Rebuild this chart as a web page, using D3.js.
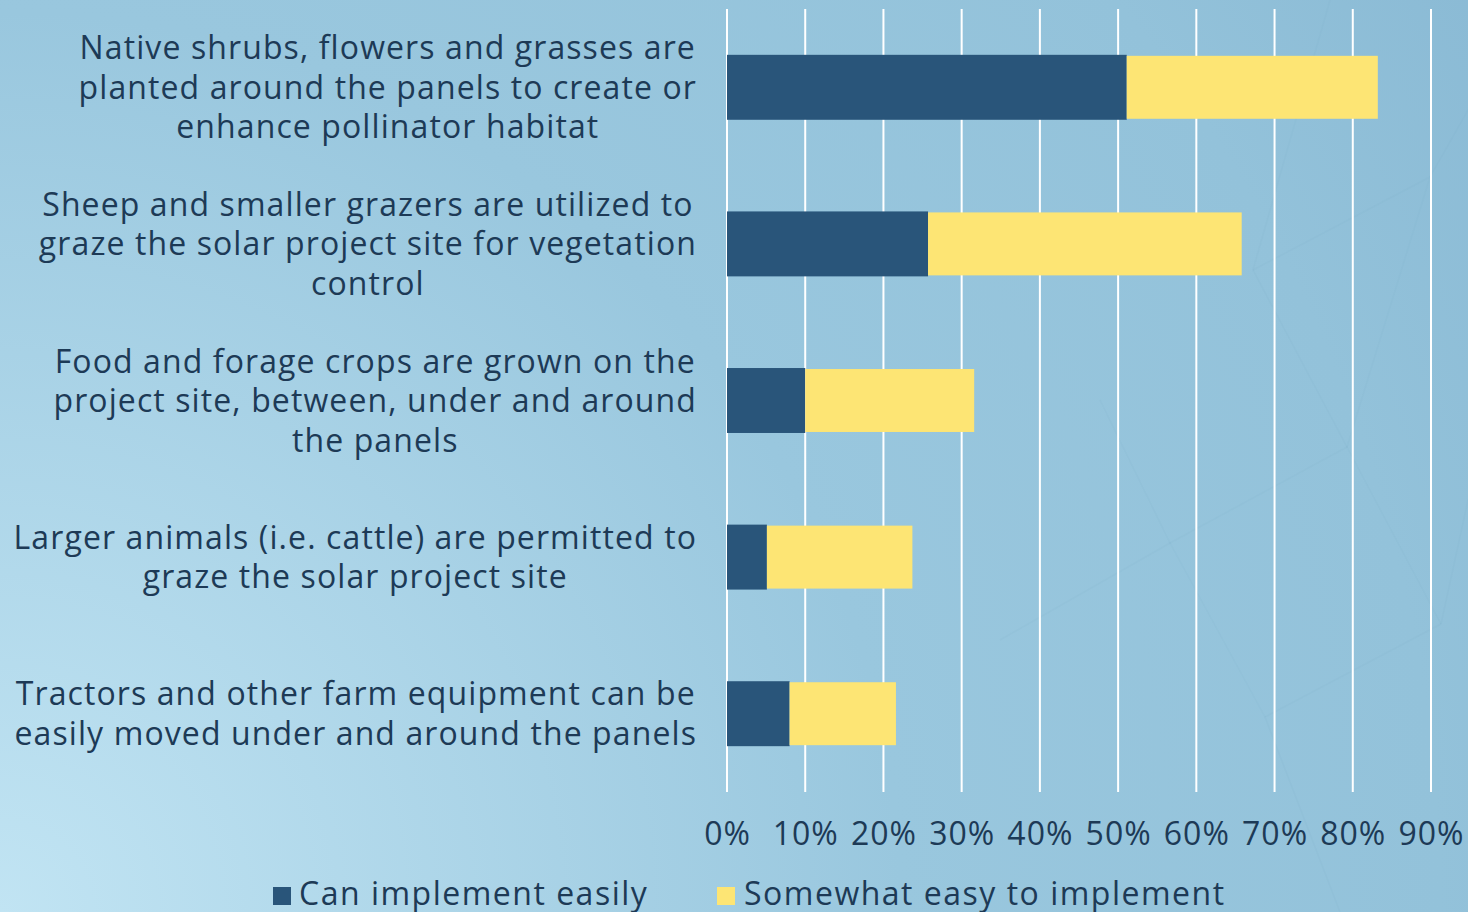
<!DOCTYPE html>
<html>
<head>
<meta charset="utf-8">
<script src="https://cdn.jsdelivr.net/npm/d3@7"></script>
<style>
  html, body { margin: 0; padding: 0; overflow: hidden; }
  svg { display: block; }
  text { font-family: "Open Sans", "Noto Sans", sans-serif; fill: #1d3a56; letter-spacing: 1.1px; }
</style>
</head>
<body>
<svg id="chart" width="1468" height="912"></svg>
<script>
// Agrivoltaic practices and how easily they can be implemented (share of respondents, %)
const categories = [
  "Native shrubs, flowers and grasses are planted around the panels to create or enhance pollinator habitat",
  "Sheep and smaller grazers are utilized to graze the solar project site for vegetation control",
  "Food and forage crops are grown on the project site, between, under and around the panels",
  "Larger animals (i.e. cattle) are permitted to graze the solar project site",
  "Tractors and other farm equipment can be easily moved under and around the panels"
];
const categoryLines = [
  ["Native shrubs, flowers and grasses are", "planted around the panels to create or", "enhance pollinator habitat"],
  ["Sheep and smaller grazers are utilized to", "graze the solar project site for vegetation", "control"],
  ["Food and forage crops are grown on the", "project site, between, under and around", "the panels"],
  ["Larger animals (i.e. cattle) are permitted to", "graze the solar project site"],
  ["Tractors and other farm equipment can be", "easily moved under and around the panels"]
];
const seriesNames = ["Can implement easily", "Somewhat easy to implement"];
const canImplementEasily = [51.1, 25.7, 10.0, 5.1, 8.0];
const somewhatEasy = [32.1, 40.1, 21.6, 18.6, 13.6];
const tickValues = [0, 10, 20, 30, 40, 50, 60, 70, 80, 90];

const colors = ["#29557a", "#fde574"];

const svg = d3.select("#chart");
const W = 1468, H = 912;

// Background
const defs = svg.append("defs");
const bg = defs.append("radialGradient")
  .attr("id", "bg").attr("gradientUnits", "userSpaceOnUse")
  .attr("cx", 0).attr("cy", H).attr("r", 1800);
bg.append("stop").attr("offset", 0).attr("stop-color", "#c1e4f3");
bg.append("stop").attr("offset", 0.5).attr("stop-color", "#99c7de");
bg.append("stop").attr("offset", 0.8).attr("stop-color", "#93c2da");
bg.append("stop").attr("offset", 1).attr("stop-color", "#89b9d4");
svg.append("rect").attr("width", W).attr("height", H).attr("fill", "url(#bg)");

// Faint network pattern in the backdrop
const netNodes = [[1100, 400], [1170, 543], [1265, 717], [1347, 447], [1441, 624], [1253, 270], [1430, 177], [1330, 0], [1468, 110], [1000, 640], [1468, 500], [1340, 912]];
const netLinks = [[0, 1], [1, 2], [1, 3], [3, 4], [2, 4], [5, 3], [5, 6], [7, 5], [6, 8], [9, 1], [4, 10], [2, 11], [3, 6]];
svg.append("g").selectAll("line").data(netLinks).join("line")
  .attr("x1", d => netNodes[d[0]][0]).attr("y1", d => netNodes[d[0]][1])
  .attr("x2", d => netNodes[d[1]][0]).attr("y2", d => netNodes[d[1]][1])
  .attr("stroke", "#6fa3c2").attr("stroke-opacity", 0.08).attr("stroke-width", 1.5);

// Scales
const x = d3.scaleLinear().domain([0, 90]).range([727, 1431]);
const y = d3.scaleBand().domain(categories).range([9, 792]).paddingInner(0.598).paddingOuter(0.299);

// Gridlines
svg.append("g").selectAll("line").data(tickValues).join("line")
  .attr("x1", d => x(d)).attr("x2", d => x(d))
  .attr("y1", 9).attr("y2", 792)
  .attr("stroke", "#ffffff").attr("stroke-width", 2);

// Stacked bars
const rows = categories.map((c, i) => ({ cat: c, a: canImplementEasily[i], b: somewhatEasy[i] }));
const stack = d3.stack().keys(["a", "b"])(rows);
stack.forEach((layer, k) => {
  svg.append("g").selectAll("rect").data(layer).join("rect")
    .attr("x", d => x(d[0]))
    .attr("width", d => x(d[1]) - x(d[0]))
    .attr("y", d => y(d.data.cat) + (k === 0 ? -1 : 0))
    .attr("height", y.bandwidth() + (k === 0 ? 2 : 0))
    .attr("fill", colors[k]);
});

// X axis tick labels
const xAxis = d3.axisBottom(x).tickValues(tickValues).tickFormat(d => d + "%").tickSize(0).tickPadding(0);
const gx = svg.append("g").attr("transform", "translate(0,822)").call(xAxis);
gx.select(".domain").remove();
gx.selectAll("text").attr("font-size", 32).attr("dy", "0.72em")
  .style("font-family", "'Open Sans', sans-serif").style("letter-spacing", "1px")
  .attr("fill", "#1d3a56");

// Category labels: each block centred, right edge of the widest line at 697
const fs = 32, lh = 39.5, rightEdge = 697;
const labels = svg.append("g");
categoryLines.forEach((lines, i) => {
  const cy = y(categories[i]) + y.bandwidth() / 2;
  const t = labels.append("text").attr("font-size", fs).attr("text-anchor", "middle");
  const spans = lines.map((ln, j) => t.append("tspan")
    .attr("y", cy + (j - (lines.length - 1) / 2) * lh)
    .attr("dy", "0.36em").text(ln));
  const maxW = d3.max(spans, s => s.node().getComputedTextLength());
  spans.forEach(s => s.attr("x", rightEdge - maxW / 2));
});

// Legend
const legendItems = [
  { name: seriesNames[0], color: colors[0], sx: 273, tx: 299 },
  { name: seriesNames[1], color: colors[1], sx: 717, tx: 744 }
];
const lg = svg.append("g");
legendItems.forEach(it => {
  lg.append("rect").attr("x", it.sx).attr("y", 887).attr("width", 18).attr("height", 18).attr("fill", it.color);
  lg.append("text").attr("x", it.tx).attr("y", 905).attr("font-size", 32)
    .style("letter-spacing", "1.5px").text(it.name);
});
</script>
</body>
</html>
